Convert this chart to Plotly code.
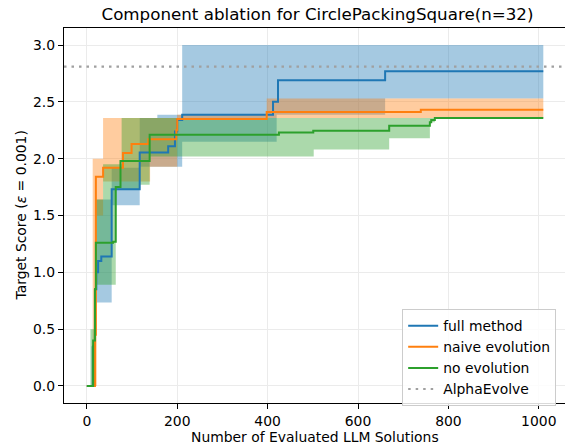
import plotly.graph_objects as go

# ---------------- data ----------------
title_text = "Component ablation for CirclePackingSquare(n=32)"
x_label = "Number of Evaluated LLM Solutions"
y_label = "Target Score (<i>ε</i> = 0.001)"
series_names = ["full method", "naive evolution", "no evolution"]
alphaevolve_name = "AlphaEvolve"
alphaevolve_value = 2.81

x_ticks = [0, 200, 400, 600, 800, 1000]
y_ticks = [0.0, 0.5, 1.0, 1.5, 2.0, 2.5, 3.0]

# full method: mean step curve
full_x = [0, 10, 14, 18, 21, 25, 32, 55, 117, 180, 195, 200, 211, 412, 423, 660, 1010]
full_y = [0, 0, 0.35, 0.85, 1.0, 1.10, 1.14, 1.73, 2.055, 2.11, 2.24, 2.34, 2.386, 2.50, 2.69, 2.77, 2.77]
# full method band
full_band_x = [0, 10, 20, 55, 117, 156, 211, 420, 660, 1010]
full_lo = [0, 0, 0.735, 1.59, 1.93, 1.93, 2.15, 2.386, 2.53, 2.53]
full_hi = [0, 0.35, 1.64, 1.92, 2.357, 2.386, 3.0, 3.0, 3.0, 3.0]

# naive evolution
naive_x = [0, 14, 18, 20, 36, 80, 99, 136, 198, 200, 398, 739, 1010]
naive_y = [0, 0, 0.45, 1.84, 1.92, 2.05, 2.13, 2.17, 2.25, 2.35, 2.41, 2.43, 2.43]
naive_band_x = [0, 13, 22, 36, 77, 140, 200, 398, 1010]
naive_lo = [0, 0, 1.5, 1.8, 1.8, 1.93, 2.34, 2.357, 2.357]
naive_hi = [0, 2.0, 2.0, 2.357, 2.357, 2.357, 2.386, 2.53, 2.53]

# no evolution
noevo_x = [0, 10, 14, 18, 20, 58, 64, 74.5, 139, 425, 501, 669, 759, 762, 770, 1010]
noevo_y = [0, 0, 0.4, 0.85, 1.26, 1.27, 1.75, 1.98, 2.21, 2.23, 2.245, 2.29, 2.32, 2.34, 2.357, 2.357]
noevo_band_x = [0, 8, 20, 36, 64, 77, 117, 139, 425, 502, 669, 759, 770, 1010]
noevo_lo = [0, 0, 0.89, 0.89, 1.73, 1.73, 1.77, 2.02, 2.02, 2.08, 2.18, 2.32, 2.357, 2.357]
noevo_hi = [0, 0.5, 1.64, 1.95, 1.95, 2.357, 2.357, 2.357, 2.357, 2.357, 2.357, 2.357, 2.357, 2.357]

# ---------------- style ----------------
colors = ["#1f77b4", "#ff7f0e", "#2ca02c"]
fills = ["rgba(31,119,180,0.4)", "rgba(255,127,14,0.4)", "rgba(44,160,44,0.4)"]
x_range = [-50.5, 1058]
y_range = [-0.15, 3.15]
FONT = "DejaVu Sans, Verdana, sans-serif"
FS = 13.9

fig = go.Figure()

bands = [(full_band_x, full_lo, full_hi), (naive_band_x, naive_lo, naive_hi),
         (noevo_band_x, noevo_lo, noevo_hi)]
for (bx, lo, hi), fc in zip(bands, fills):
    fig.add_trace(go.Scatter(x=bx, y=lo, mode="lines", line=dict(width=0, shape="hv"),
                             showlegend=False, hoverinfo="skip"))
    fig.add_trace(go.Scatter(x=bx, y=hi, mode="lines", line=dict(width=0, shape="hv"),
                             fill="tonexty", fillcolor=fc, showlegend=False, hoverinfo="skip"))

lines = [(full_x, full_y), (naive_x, naive_y), (noevo_x, noevo_y)]
for (lx, ly), name, c in zip(lines, series_names, colors):
    fig.add_trace(go.Scatter(x=lx, y=ly, mode="lines", name=name,
                             line=dict(color=c, width=2, shape="hv")))

fig.add_trace(go.Scatter(x=x_range, y=[alphaevolve_value] * 2, mode="lines", name=alphaevolve_name,
                         line=dict(color="#a0a0a0", width=2.2, dash="2.5px,5px")))

fig.update_layout(
    width=565, height=445,
    margin=dict(l=64, r=0, t=28, b=42),
    paper_bgcolor="white", plot_bgcolor="white",
    font=dict(family=FONT, size=FS, color="black"),
    title=dict(text=title_text, x=317.5 / 565, xanchor="center", y=1 - 14 / 445, yanchor="middle",
               yref="container", font=dict(size=16.7, color="black")),
    legend=dict(x=0.675, y=0.25, xanchor="left", yanchor="top", traceorder="normal",
                bgcolor="rgba(255,255,255,0.85)", bordercolor="#cccccc", borderwidth=1,
                font=dict(size=FS), itemwidth=30),
    showlegend=True,
    annotations=[
        dict(text=x_label, xref="paper", yref="paper", x=0.5, y=-(437 - 403) / 375,
             xanchor="center", yanchor="middle", showarrow=False, font=dict(size=FS)),
        dict(text=y_label, xref="paper", yref="paper", x=-(64 - 20) / 501, y=0.5,
             xanchor="center", yanchor="middle", textangle=-90, showarrow=False,
             font=dict(size=FS)),
    ],
)
fig.update_xaxes(range=x_range, tickvals=x_ticks, ticks="outside", ticklen=5, tickcolor="black",
                 showline=True, linecolor="black", linewidth=1.2, mirror=True, automargin=False,
                 showgrid=True, gridcolor="#ebebeb", gridwidth=1, zeroline=False,
                 tickfont=dict(size=FS))
fig.update_yaxes(range=y_range, tickvals=y_ticks, tickformat=".1f", ticks="outside", ticklen=5,
                 tickcolor="black", showline=True, linecolor="black", linewidth=1.2, mirror=False,
                 automargin=False,
                 showgrid=True, gridcolor="#ebebeb", gridwidth=1, zeroline=False,
                 tickfont=dict(size=FS))

fig.write_html("out.html", config={"displayModeBar": False},
               post_script="document.body.style.margin='0';")
